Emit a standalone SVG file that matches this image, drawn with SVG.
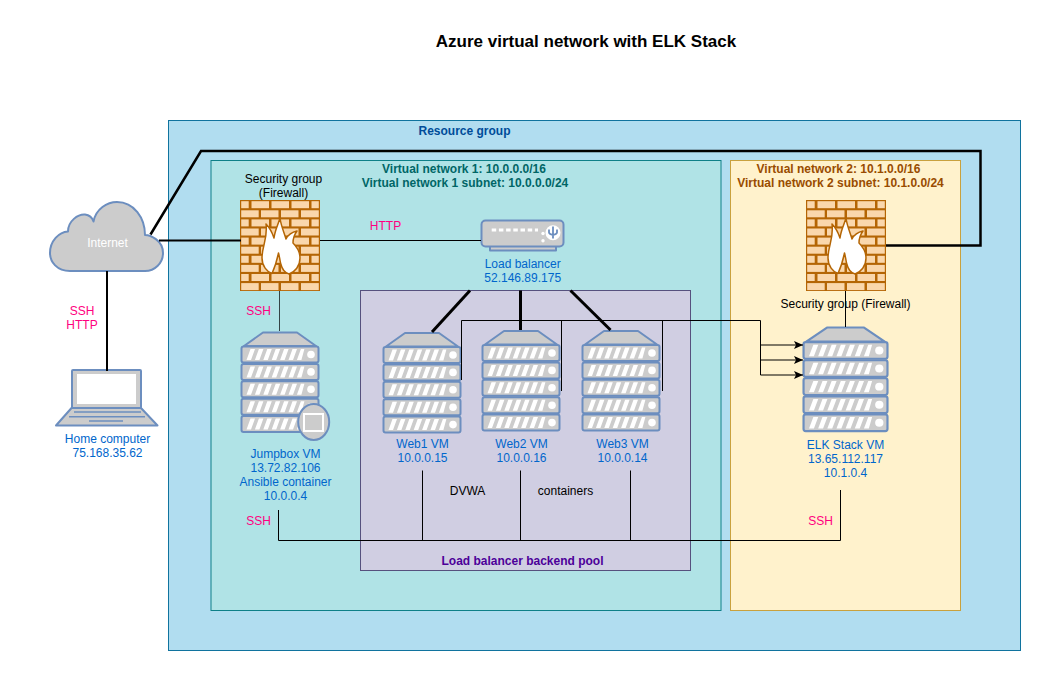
<svg xmlns="http://www.w3.org/2000/svg" xmlns:xlink="http://www.w3.org/1999/xlink" width="1061" height="691" viewBox="0 0 1061 691">
<style>
text{font-family:"Liberation Sans",Arial,Helvetica,sans-serif;font-size:12px;text-anchor:middle}
.lbl{fill:#0066cc}
.pink{fill:#ff0080}
.b{font-weight:bold}
.box{stroke-width:1}
.shape{fill:#cccccc;stroke:#6c8ebf;stroke-width:2;stroke-linejoin:round}
.thin{fill:none;stroke:#000;stroke-width:1}
.med{fill:none;stroke:#000;stroke-width:2}
.thick{fill:none;stroke:#000;stroke-width:3}
.brick{fill:#fad7ac;stroke:none}
</style>
<defs>
<marker id="arr" markerUnits="userSpaceOnUse" markerWidth="9" markerHeight="8" refX="9" refY="4" orient="auto"><path d="M0 0L9 4L0 8L2 4Z" fill="#000"/></marker>
<g id="unit">
<rect x="0.5" y="0" width="77" height="16" rx="2" class="shape"/>
<path d="M5.500 13.500L9.500 2.500H14L10 13.500ZM13.900 13.500L17.900 2.500H22.400L18.400 13.500ZM22.300 13.500L26.300 2.500H30.800L26.800 13.500ZM30.700 13.500L34.700 2.500H39.200L35.200 13.500ZM39.100 13.500L43.100 2.500H47.600L43.600 13.500ZM47.500 13.500L51.500 2.500H56L52 13.500ZM55.900 13.500L59.900 2.500H63.400L60.400 13.500Z" fill="#fff"/>
<circle cx="70" cy="8" r="3.800" fill="#fff"/>
</g>
<g id="server">
<path d="M3 15L22 1.500H56L75 15Z" class="shape"/>
<use href="#unit" y="15.500"/>
<use href="#unit" y="32.900"/>
<use href="#unit" y="50.300"/>
<use href="#unit" y="67.700"/>
<use href="#unit" y="85.100"/>
</g>
<g id="firewall">
<rect width="80" height="91" fill="#b46504"/>
<g class="brick">
<g id="rowA"><rect x="1.2" y="1.2" width="7.500" height="7"/><rect x="11.500" y="1.200" width="17.500" height="7"/><rect x="31.500" y="1.200" width="17.500" height="7"/><rect x="51.500" y="1.200" width="17.500" height="7"/><rect x="71.500" y="1.200" width="7.300" height="7"/></g>
<g id="rowB"><rect x="1.2" y="10.300" width="17.500" height="7"/><rect x="21" y="10.300" width="17.500" height="7"/><rect x="41" y="10.300" width="17.500" height="7"/><rect x="61" y="10.300" width="17.800" height="7"/></g>
<use href="#rowA" y="18.200"/><use href="#rowB" y="18.200"/>
<use href="#rowA" y="36.400"/><use href="#rowB" y="36.400"/>
<use href="#rowA" y="54.600"/><use href="#rowB" y="54.600"/>
<use href="#rowA" y="72.800"/><use href="#rowB" y="72.800"/>
</g>
<path d="M40 18C41 26 44 32 46 39C48 35 52 32 57 31C54 35 53 39 53 43C57 47 60 52 60 58C60 66 55 72 49 74C45 73 42 69 40.500 63C40 60 39.500 57 38.500 53C37 60 35 67 32 73.500C27 72 22 66 22 58C22 46 28 38 26 24C30 28 32 32 34 38C35 30 38 25 40 18Z" fill="#fff" stroke="#b46504" stroke-width="1.500" stroke-linejoin="round"/>
</g>
</defs>
<rect width="1061" height="691" fill="#fff"/>
<text id="title" x="586" y="47" class="b" style="font-size:17px">Azure virtual network with ELK Stack</text>

<g id="resource-group">
<rect x="168.500" y="120.500" width="852" height="530" fill="#b1ddf0" stroke="#10739e" class="box"/>
<text x="464.500" y="135" class="b" fill="#004c99">Resource group</text>
</g>
<g id="virtual-network-1">
<rect x="211" y="160.500" width="510" height="450" fill="#b0e3e6" stroke="#0e8088" class="box"/>
<text x="464" y="172.500" class="b" fill="#006666">Virtual network 1: 10.0.0.0/16</text>
<text x="465" y="186.500" class="b" fill="#006666">Virtual network 1 subnet: 10.0.0.0/24</text>
</g>
<g id="virtual-network-2">
<rect x="730.500" y="160.500" width="230" height="450" fill="#fff2cc" stroke="#c9a13d" class="box"/>
<text x="838.500" y="172.500" class="b" fill="#994c00">Virtual network 2: 10.1.0.0/16</text>
<text x="840.500" y="186.500" class="b" fill="#994c00">Virtual network 2 subnet: 10.1.0.0/24</text>
</g>
<g id="backend-pool">
<rect x="360.500" y="290.500" width="330" height="280" fill="#d0cee2" stroke="#56517e" class="box"/>
<text x="522.500" y="564.500" class="b" fill="#4c0099">Load balancer backend pool</text>
</g>

<g id="internet">
<path d="M70 271C57 271 50 262 50 253C50 241 59 232 68 231.500C68 221 78 214 85 214.500C89 215 92 217 93.500 221.500C96 209 107 202 117 202C134 202 145 218 145 235C150 235 163 240 163 253C163 263 155 271 145 271Z" class="shape"/>
<text x="107.500" y="247" fill="#fff">Internet</text>
</g>
<g id="home-computer">
<path d="M71.500 408L56 425.500H157.500L141 408Z" class="shape"/>
<rect x="72" y="370" width="69" height="38" rx="1" class="shape"/>
<rect x="77" y="374" width="59" height="30" fill="#fff"/>
<path d="M74 412H141M69 416.700H145M89 421H123" fill="none" stroke="#6c8ebf" stroke-width="1.500"/>
<text x="107.500" y="442.500" class="lbl">Home computer</text>
<text x="107.500" y="456.500" class="lbl">75.168.35.62</text>
</g>
<g id="firewall-1">
<text x="283.500" y="183">Security group</text>
<text x="283.500" y="197">(Firewall)</text>
<use href="#firewall" x="240" y="200"/>
</g>
<g id="load-balancer">
<rect x="490" y="246" width="66" height="4.500" class="shape"/>
<rect x="481.500" y="220.500" width="82" height="26" rx="4" class="shape"/>
<path d="M491.700 230H538" fill="none" stroke="#fff" stroke-width="3" stroke-dasharray="4.500 2.700"/>
<circle cx="543" cy="233.500" r="1.700" fill="#fff"/>
<circle cx="543" cy="240.700" r="1.700" fill="#fff"/>
<circle cx="553" cy="232.700" r="7.500" fill="#fff"/>
<path d="M553 226.500V238.500M549 229.500V232.500Q549 234 553 235Q557 234 557 232.500V229.500" fill="none" stroke="#6c8ebf" stroke-width="1.800"/>
<text x="522.700" y="267.500" class="lbl">Load balancer</text>
<text x="522.700" y="281.500" class="lbl">52.146.89.175</text>
</g>
<g id="jumpbox">
<use href="#server" x="241" y="331"/>
<ellipse cx="313.700" cy="422" rx="15.500" ry="18" class="shape"/>
<rect x="304" y="414" width="19" height="17" fill="#cccccc" stroke="#fff" stroke-width="2"/>
<text x="285.500" y="458" class="lbl">Jumpbox VM</text>
<text x="285.500" y="472" class="lbl">13.72.82.106</text>
<text x="285.500" y="486" class="lbl">Ansible container</text>
<text x="285.500" y="500" class="lbl">10.0.0.4</text>
</g>
<g id="web1">
<use href="#server" x="383" y="331.500"/>
<text x="422.500" y="448" class="lbl">Web1 VM</text>
<text x="422.500" y="462" class="lbl">10.0.0.15</text>
</g>
<g id="web2">
<use href="#server" x="482" y="329.500"/>
<text x="521.500" y="448" class="lbl">Web2 VM</text>
<text x="521.500" y="462" class="lbl">10.0.0.16</text>
</g>
<g id="web3">
<use href="#server" x="582" y="329.500"/>
<text x="622.500" y="448" class="lbl">Web3 VM</text>
<text x="622.500" y="462" class="lbl">10.0.0.14</text>
</g>
<g id="firewall-2">
<use href="#firewall" x="806" y="200"/>
<text x="845.500" y="308">Security group (Firewall)</text>
</g>
<g id="elk">
<use href="#server" transform="translate(803 326) scale(1.090 1.040)"/>
<text x="845.500" y="449" class="lbl">ELK Stack VM</text>
<text x="845.500" y="463" class="lbl">13.65.112.117</text>
<text x="845.500" y="477" class="lbl">10.1.0.4</text>
</g>

<g id="connectors">
<path d="M159 240.500H241" class="med"/>
<path d="M150.500 234.500L201 151H980.500V245.500H886" class="med" style="stroke-width:2.500"/>
<path d="M107 271V371" class="med"/>
<path d="M320 240.500H481" class="thin"/>
<path d="M279.500 291V331" class="thin" style="stroke-opacity:.7"/>
<path d="M470 290.500L432 332" class="thick"/>
<path d="M520.500 290.500V330" class="thick"/>
<path d="M570.500 290.500L610.500 330" class="thick"/>
<path d="M461.500 380V320.500H760.500V375" class="thin"/>
<path d="M561.500 320.500V391M662.500 320.500V391" class="thin"/>
<path d="M760.500 345H803" class="thin" marker-end="url(#arr)"/>
<path d="M760.500 360H803" class="thin" marker-end="url(#arr)"/>
<path d="M760.500 375H803" class="thin" marker-end="url(#arr)"/>
<path d="M845.500 291V327" class="thin"/>
<path d="M278.500 510V540.500H840.500V490" class="thin"/>
<path d="M422.500 470.500V540.500M520.500 470.500V540.500M630.500 470.500V540.500" class="thin"/>
</g>
<g id="connector-labels">
<text x="82" y="315" class="pink">SSH</text>
<text x="82" y="329" class="pink">HTTP</text>
<text x="258.500" y="315" class="pink">SSH</text>
<text x="385.500" y="230" class="pink">HTTP</text>
<text x="258.500" y="525" class="pink">SSH</text>
<text x="820.500" y="525" class="pink">SSH</text>
<text x="467.500" y="495">DVWA</text>
<text x="565.500" y="495">containers</text>
</g>
</svg>
